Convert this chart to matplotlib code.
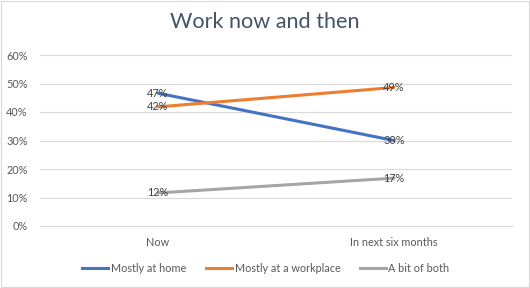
import matplotlib
matplotlib.use("Agg")
import matplotlib.pyplot as plt
from matplotlib.lines import Line2D

categories = ["Now", "In next six months"]
series_names = ["Mostly at home", "Mostly at a workplace", "A bit of both"]
home = [46.6, 30.0]
workplace = [41.8, 48.6]
both = [11.6, 16.8]
colors = ["#4472C4", "#ED7D31", "#A5A5A5"]
yticks = [0, 10, 20, 30, 40, 50, 60]

plt.rcParams['font.family'] = ['Lato', 'DejaVu Sans']

fig = plt.figure(figsize=(5.30, 2.88), dpi=100)
fig.patch.set_facecolor("white")
fig.add_artist(plt.Rectangle((0.001, 0.002), 0.997, 0.995, transform=fig.transFigure,
                             fill=False, edgecolor="#D9D9D9", linewidth=0.8))

ax = fig.add_axes([40/530, 1-226/288, 472/530, 171/288])
x = list(range(len(categories)))
for vals, col, name in zip([home, workplace, both], colors, series_names):
    ax.plot(x, vals, color=col, linewidth=2.2, solid_capstyle="round", label=name, zorder=3)
    for xi, v in zip(x, vals):
        ax.text(xi, v, f"{v:.0f}%", ha="center", va="center", fontsize=7.8,
                color="#404040", zorder=4)

ax.set_xlim(-0.5, 1.5)
ax.set_ylim(0, 60)
ax.set_yticks(yticks)
ax.set_yticklabels([f"{t}%" for t in yticks])
ax.set_xticks(x)
ax.set_xticklabels(categories)
ax.grid(axis="y", color="#D9D9D9", linewidth=0.8, zorder=0)
for s in ["top", "right", "left"]:
    ax.spines[s].set_visible(False)
ax.spines["bottom"].set_color("#D9D9D9")
ax.spines["bottom"].set_linewidth(0.8)
ax.tick_params(axis="both", length=0, labelsize=7.8, colors="#595959")
ax.tick_params(axis="y", pad=9)
ax.tick_params(axis="x", pad=8)

fig.text(0.5, 1-22/288, "Work now and then", ha="center", va="center",
         fontsize=15.6, color="#44546A")

handles = [Line2D([0], [0], color=c, linewidth=2.2) for c in colors]
fig.legend(handles, series_names, loc="center", bbox_to_anchor=(266/530, 1-268/288),
           ncol=3, frameon=False, fontsize=7.8, labelcolor="#595959",
           handlelength=2.4, handletextpad=0.25, columnspacing=1.8)

fig.savefig("out.png", dpi=100, facecolor="white")
